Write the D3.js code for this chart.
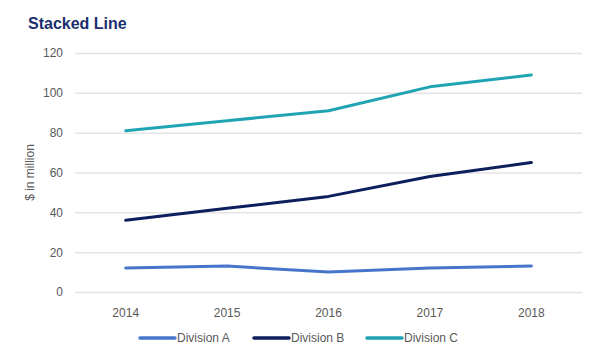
<!DOCTYPE html>
<html>
<head>
<meta charset="utf-8">
<script src="https://cdn.jsdelivr.net/npm/d3@7"></script>
<style>
  html, body { margin: 0; padding: 0; background: #fff; }
  svg { display: block; font-family: "Liberation Sans", Arial, sans-serif; }
</style>
</head>
<body>
<svg id="chart" width="600" height="360"></svg>
<script>
const years = ["2014", "2015", "2016", "2017", "2018"];
const divisionA = [12, 13, 10, 12, 13];
const divisionB = [24, 29, 38, 46, 52];
const divisionC = [45, 44, 43, 45, 44];
const seriesNames = ["Division A", "Division B", "Division C"];
const yTicks = [0, 20, 40, 60, 80, 100, 120];
const colors = ["#4675CC", "#0C1F5C", "#20A3B3"];

const rows = years.map((yr, i) => ({
  year: yr,
  "Division A": divisionA[i],
  "Division B": divisionB[i],
  "Division C": divisionC[i]
}));
const stacked = d3.stack().keys(seriesNames)(rows);

const svg = d3.select("#chart");
const plotLeft = 75, plotRight = 582, plotTop = 53, plotBottom = 292;

const x = d3.scaleBand().domain(years).range([plotLeft, plotRight]);
const y = d3.scaleLinear().domain([0, 120]).range([plotBottom, plotTop]);

// title
svg.append("text")
  .attr("x", 28).attr("y", 29)
  .attr("font-size", 16).attr("font-weight", "bold")
  .attr("fill", "#1B2F6E")
  .text("Stacked Line");

// gridlines
const yAxis = d3.axisLeft(y).tickValues(yTicks).tickSize(-(plotRight - plotLeft)).tickPadding(12);
const gy = svg.append("g").attr("transform", `translate(${plotLeft},0)`).call(yAxis);
gy.select(".domain").remove();
gy.selectAll(".tick line").attr("stroke", "#E3E3E3").attr("stroke-width", 1.5);
gy.selectAll(".tick text").attr("fill", "#595959").attr("font-size", 12)
  .attr("font-family", "Liberation Sans, Arial, sans-serif");

// x axis
const xAxis = d3.axisBottom(x).tickSize(0).tickPadding(16);
const gx = svg.append("g").attr("transform", `translate(0,${plotBottom})`).call(xAxis);
gx.select(".domain").remove();
gx.selectAll(".tick text").attr("fill", "#595959").attr("font-size", 12)
  .attr("font-family", "Liberation Sans, Arial, sans-serif");

// y label
svg.append("text")
  .attr("transform", `translate(34,${(plotTop + plotBottom) / 2}) rotate(-90)`)
  .attr("text-anchor", "middle")
  .attr("font-size", 12).attr("fill", "#595959")
  .text("$ in million");

// lines
const line = d3.line()
  .x(d => x(d.data.year) + x.bandwidth() / 2)
  .y(d => y(d[1]));

svg.append("g").selectAll("path")
  .data(stacked)
  .join("path")
  .attr("d", line)
  .attr("fill", "none")
  .attr("stroke", (d, i) => colors[i])
  .attr("stroke-width", 3)
  .attr("stroke-linecap", "round")
  .attr("stroke-linejoin", "round");

// legend
const legendX = [140, 254, 367];
const lg = svg.append("g");
seriesNames.forEach((name, i) => {
  lg.append("line")
    .attr("x1", legendX[i]).attr("x2", legendX[i] + 35)
    .attr("y1", 338).attr("y2", 338)
    .attr("stroke", colors[i]).attr("stroke-width", 3.5)
    .attr("stroke-linecap", "round");
  lg.append("text")
    .attr("x", legendX[i] + 37).attr("y", 342)
    .attr("font-size", 12).attr("fill", "#595959")
    .text(name);
});
</script>
</body>
</html>
